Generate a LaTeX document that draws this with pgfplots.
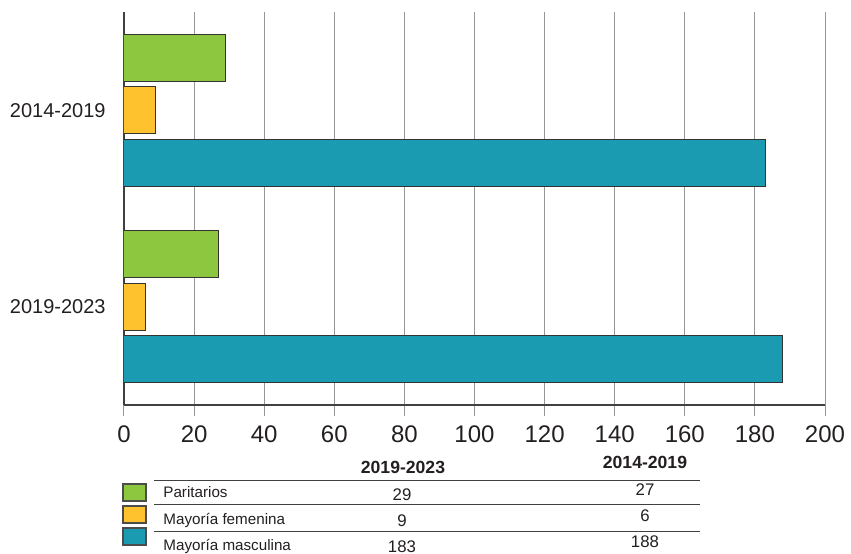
\documentclass[border=0pt]{standalone}
\usepackage{pgfplots}
\pgfplotsset{compat=1.18}
\usepackage{fontspec}
\setmainfont{Liberation Sans}
\definecolor{verde}{RGB}{141,198,63}
\definecolor{amarillo}{RGB}{254,194,46}
\definecolor{azul}{RGB}{26,155,178}
\definecolor{texto}{RGB}{35,31,32}
\definecolor{rejilla}{RGB}{150,150,150}

\begin{document}
\begin{tikzpicture}
  \path[use as bounding box] (-62pt,-74pt) rectangle (363.5pt,202.5pt);
  \begin{axis}[
      at={(0,0)}, anchor=south west,
      scale only axis,
      width=350.5pt, height=196.5pt,
      xbar,
      bar width=23.5pt,
      xmin=0, xmax=200,
      ymin=-0.5, ymax=1.5,
      xtick={0,20,...,200},
      ytick={0,1},
      yticklabels={2019-2023,2014-2019},
      axis x line*=bottom,
      axis y line*=left,
      axis line style={-, draw=black!75, line width=0.6pt},
      xmajorgrids,
      grid style={rejilla, line width=0.5pt},
      tick align=outside,
      major tick length=5.5pt,
      xtick style={draw=rejilla, line width=0.5pt},
      ytick style={draw=none},
      xticklabel style={font=\fontsize{12}{14}\selectfont, text=texto,
        anchor=north, inner sep=0pt, yshift=-4.5pt},
      yticklabel style={font=\fontsize{10}{12}\selectfont, text=texto,
        anchor=east, inner sep=0pt, xshift=-3.5pt},
      /pgf/number format/assume math mode=true,
    ]
    % barra inferior de cada grupo: Mayoría masculina
    \addplot[fill=azul, draw=black!80, line width=0.5pt, bar shift=-26.25pt]
      coordinates {(188,0) (183,1)};
    % Mayoría femenina
    \addplot[fill=amarillo, draw=black!80, line width=0.5pt, bar shift=0pt]
      coordinates {(6,0) (9,1)};
    % Paritarios
    \addplot[fill=verde, draw=black!80, line width=0.5pt, bar shift=26.25pt]
      coordinates {(27,0) (29,1)};
  \end{axis}

  % tabla de valores bajo el eje
  \begin{scope}[text=texto]
    \node[anchor=base, inner sep=0pt, font=\bfseries\fontsize{8.8}{10}\selectfont]
      at (139.5pt,-34pt) {2019-2023};
    \node[anchor=base, inner sep=0pt, font=\bfseries\fontsize{8.8}{10}\selectfont]
      at (260.5pt,-31.5pt) {2014-2019};

    \draw[black!75, line width=0.5pt] (15pt,-37.5pt) -- (288pt,-37.5pt);
    \draw[black!75, line width=0.5pt] (15pt,-49.5pt) -- (288pt,-49.5pt);
    \draw[black!75, line width=0.5pt] (15pt,-63pt) -- (288pt,-63pt);

    \draw[fill=verde, draw=black!70, line width=0.6pt] (-0.5pt,-39.5pt) rectangle (11pt,-48pt);
    \draw[fill=amarillo, draw=black!70, line width=0.6pt] (-0.5pt,-50.5pt) rectangle (11pt,-59pt);
    \draw[fill=azul, draw=black!70, line width=0.6pt] (-0.5pt,-61.5pt) rectangle (11pt,-70pt);

    \node[anchor=base west, inner sep=0pt, font=\fontsize{7.6}{9}\selectfont] at (19.5pt,-46pt) {Paritarios};
    \node[anchor=base west, inner sep=0pt, font=\fontsize{7.6}{9}\selectfont] at (19.5pt,-59.5pt) {Mayoría femenina};
    \node[anchor=base west, inner sep=0pt, font=\fontsize{7.6}{9}\selectfont] at (19.5pt,-72.5pt) {Mayoría masculina};

    \node[anchor=base, inner sep=0pt, font=\fontsize{8.4}{10}\selectfont] at (139pt,-47.5pt) {29};
    \node[anchor=base, inner sep=0pt, font=\fontsize{8.4}{10}\selectfont] at (139pt,-60.5pt) {9};
    \node[anchor=base, inner sep=0pt, font=\fontsize{8.4}{10}\selectfont] at (139pt,-73.5pt) {183};

    \node[anchor=base, inner sep=0pt, font=\fontsize{8.4}{10}\selectfont] at (260.5pt,-45pt) {27};
    \node[anchor=base, inner sep=0pt, font=\fontsize{8.4}{10}\selectfont] at (260.5pt,-58pt) {6};
    \node[anchor=base, inner sep=0pt, font=\fontsize{8.4}{10}\selectfont] at (260.5pt,-71pt) {188};
  \end{scope}
\end{tikzpicture}
\end{document}
